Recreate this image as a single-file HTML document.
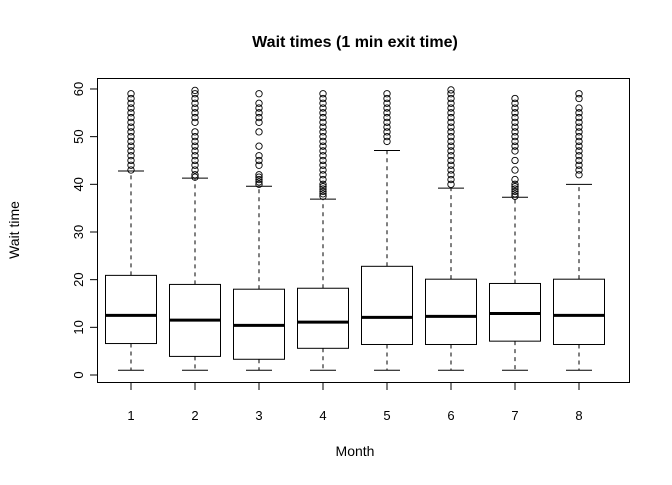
<!DOCTYPE html>
<html><head><meta charset="utf-8"><style>
body{margin:0;background:#fff;}
svg text{font-family:"Liberation Sans",Arial,sans-serif;}
</style></head><body>
<svg id="chart" width="672" height="480" xmlns="http://www.w3.org/2000/svg">
<rect width="672" height="480" fill="#fff"/>
<text x="355" y="47" text-anchor="middle" font-size="16" font-weight="bold">Wait times (1 min exit time)</text>
<text x="355" y="456" text-anchor="middle" font-size="14">Month</text>
<text transform="translate(19,230) rotate(-90)" text-anchor="middle" font-size="14">Wait time</text>
<rect x="97.5" y="78.5" width="532" height="304" fill="none" stroke="#000"/>
<g id="marks"></g>
</svg>
<script>
const months = ["1","2","3","4","5","6","7","8"];
const q1 = [6.6, 3.9, 3.3, 5.6, 6.4, 6.4, 7.1, 6.4];
const medians = [12.5, 11.5, 10.4, 11.1, 12.1, 12.3, 12.9, 12.5];
const q3 = [20.9, 19.0, 18.0, 18.2, 22.8, 20.1, 19.2, 20.1];
const lowWhisker = [1, 1, 1, 1, 1, 1, 1, 1];
const highWhisker = [42.8, 41.3, 39.6, 36.9, 47.1, 39.2, 37.3, 40.0];
const outliers = [
 [43,44,45,46,47,48,49,50,51,52,53,54,55,56,57,58,59],
 [41.5,42,43,44,45,46,47,48,49,50,51,53,54,55,56,57,58,59,59.7],
 [40,40.5,41,41.5,42,44,45,46,48,51,53,54,55,56,57,59],
 [37.5,38,38.5,39,39.5,40,41,42,43,44,45,46,47,48,49,50,51,52,53,54,55,56,57,58,59],
 [49,50,51,52,53,54,55,56,57,58,59],
 [40,41,42,43,44,45,46,47,48,49,50,51,52,53,54,55,56,57,58,59,59.8],
 [37.5,38,38.5,39,39.5,40,41,43,45,47,48,49,50,51,52,53,54,55,56,57,58],
 [42,43,44,45,46,47,48,49,50,51,52,53,54,55,56,58,59]
];
const yTicks = [0,10,20,30,40,50,60];
const NS="http://www.w3.org/2000/svg";
const yS = v => 375 - v*4.767;
const xS = i => 131 + i*64;
const g = document.getElementById('marks');
function mk(tag, attrs){const e=document.createElementNS(NS,tag);for(const k in attrs)e.setAttribute(k,attrs[k]);g.appendChild(e);return e;}
let ax = mk('line',{x1:97.5,x2:97.5,y1:yS(0),y2:yS(60),stroke:'#000'});


yTicks.forEach(t=>{
 const l=mk('line',{x1:90,x2:97.5,y1:yS(t),y2:yS(t),stroke:'#000'});
 
 
 const tx=mk('text',{transform:`translate(83,${yS(t)}) rotate(-90)`,'text-anchor':'middle','font-size':13});
 tx.textContent=t;
 
 
});
let xa = mk('line',{x1:xS(0),x2:xS(7),y1:382.5,y2:382.5,stroke:'#000'});


months.forEach((m,i)=>{
 const x=xS(i);
 const l=mk('line',{x1:x,x2:x,y1:382.5,y2:390,stroke:'#000'});
 
 
 const tx=mk('text',{x:x,y:420,'text-anchor':'middle','font-size':13});
 tx.textContent=m;
 
 
 const hw=25.5;
 const w1=mk('line',{x1:x,x2:x,y1:yS(q3[i]),y2:yS(highWhisker[i]),stroke:'#000','stroke-dasharray':'4,4'});
 
 
 const w2=mk('line',{x1:x,x2:x,y1:yS(q1[i]),y2:yS(lowWhisker[i]),stroke:'#000','stroke-dasharray':'4,4'});
 
 
 const c1=mk('line',{x1:x-13,x2:x+13,y1:yS(highWhisker[i]),y2:yS(highWhisker[i]),stroke:'#000'});
 
 
 const c2=mk('line',{x1:x-13,x2:x+13,y1:yS(lowWhisker[i]),y2:yS(lowWhisker[i]),stroke:'#000'});
 
 
 const b=mk('rect',{x:x-hw,y:yS(q3[i]),width:2*hw,height:yS(q1[i])-yS(q3[i]),fill:'#fff',stroke:'#000'});
 
 
 const md=mk('line',{x1:x-hw,x2:x+hw,y1:yS(medians[i]),y2:yS(medians[i]),stroke:'#000','stroke-width':3});
 
 
 outliers[i].forEach(v=>{
  const c=mk('circle',{cx:x,cy:yS(v),r:3.2,fill:'none',stroke:'#000','stroke-width':0.9});
  
  
 });
});
</script>
</body></html>
